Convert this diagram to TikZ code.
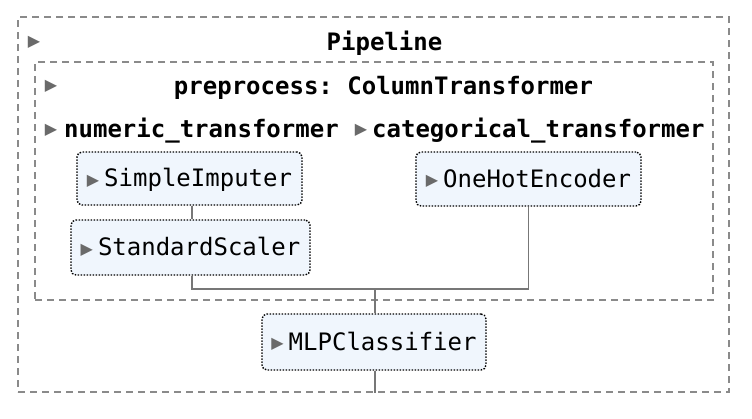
\documentclass[tikz,border=0pt]{standalone}
\usepackage{fontspec}
\setmonofont{DejaVu Sans Mono}
\newfontfamily\symfont{DejaVu Sans}
\definecolor{dashgray}{HTML}{8A8A8A}
\definecolor{linegray}{HTML}{777777}
\definecolor{trigray}{HTML}{6A6A6A}
\definecolor{boxfill}{HTML}{F0F6FD}
\newcommand\tri{\raisebox{1.5pt}{\symfont\color{trigray}\fontsize{16}{16}\selectfont ▶}}
\tikzset{
  dashbox/.style={draw=dashgray, line width=1.4pt, dash pattern=on 7pt off 5pt, inner sep=0pt},
  estbox/.style={draw=black, fill=boxfill, line width=1.4pt, dash pattern=on 1.5pt off 1.5pt,
    rounded corners=5pt, inner sep=0pt, text height=16pt, text depth=0pt,
    font=\ttfamily\fontsize{24}{28}\selectfont},
  lbl/.style={inner sep=0pt, anchor=base, font=\ttfamily\bfseries\fontsize{24}{28}\selectfont},
  trinode/.style={inner sep=0pt},
  conn/.style={draw=linegray, line width=1.6pt},
}
\begin{document}
\begin{tikzpicture}[x=1pt,y=-1pt]
\useasboundingbox[fill=white] (0,0) rectangle (752,418);
% containers
\node[dashbox, minimum width=711pt, minimum height=375pt] (outer) at (373.5,204.5) {};
\node[dashbox, minimum width=678pt, minimum height=238pt] (inner) at (374,181) {};
% labels
\node[trinode] (t1) at (34,42) {\tri};
\node[lbl] (pipe) at (384.5,50) {Pipeline};
\node[trinode] (t2) at (51,86) {\tri};
\node[lbl] (prep) at (383.5,94) {preprocess: ColumnTransformer};
\node[trinode] (t3) at (51,130) {\tri};
\node[lbl, anchor=base west] (num) at (64,137.5) {numeric\_transformer};
\node[trinode] (t4) at (361,130) {\tri};
\node[lbl, anchor=base west] (cat) at (372,137.5) {categorical\_transformer};
% estimators
\node[estbox, minimum width=225pt, minimum height=53pt] (si) at (189.5,178.5) {\tri\hspace{5pt}SimpleImputer};
\node[estbox, minimum width=239pt, minimum height=55pt] (ss) at (190.5,247.5) {\tri\hspace{5pt}StandardScaler};
\node[estbox, minimum width=225pt, minimum height=54pt] (ohe) at (528.5,179) {\tri\hspace{5pt}OneHotEncoder};
\node[estbox, minimum width=224pt, minimum height=56pt] (mlp) at (374,342) {\tri\hspace{5pt}MLPClassifier};
% connectors
\coordinate (j) at (375,289);
\coordinate (sitop) at (192,205);
\draw[conn] (si.south -| sitop) -- (ss.north -| sitop);
\draw[conn] (ss.south -| sitop) |- (j) -| (ohe.south);
\draw[conn] (j) -- (mlp.north -| j);
\draw[conn] (mlp.south -| j) -- (outer.south -| j);
\end{tikzpicture}
\end{document}
